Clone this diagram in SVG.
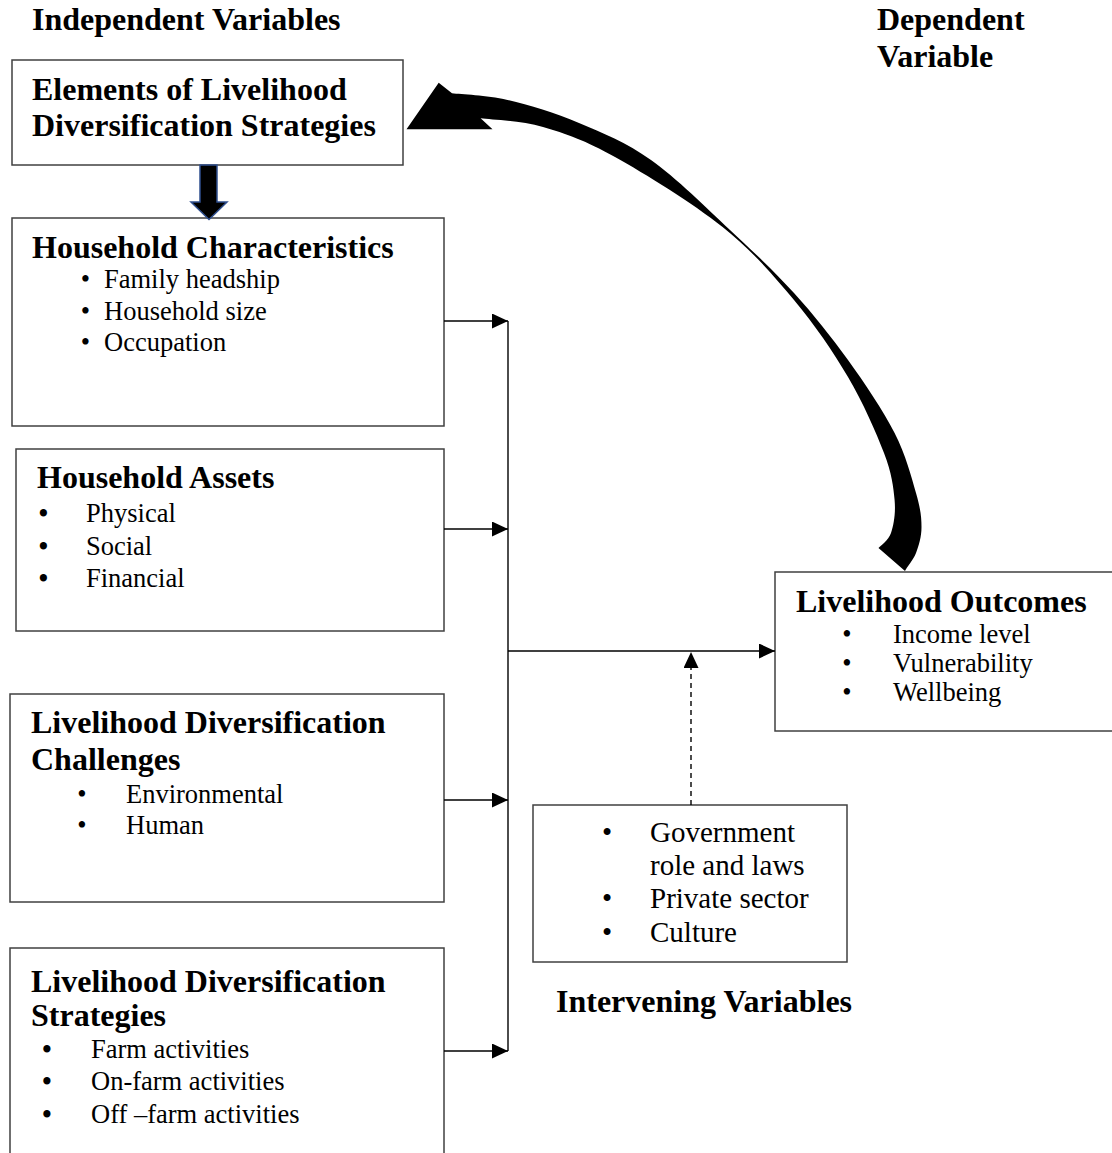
<svg xmlns="http://www.w3.org/2000/svg" width="1112" height="1153" viewBox="0 0 1112 1153">
<style>
  .box { fill: #ffffff; stroke: #404040; stroke-width: 1.5; }
  .h { font-family: "Liberation Serif", "Times New Roman", serif; font-weight: bold; font-size: 32px; fill: #000; }
  .b { font-family: "Liberation Serif", "Times New Roman", serif; font-size: 26.5px; fill: #000; }
  .bi { font-family: "Liberation Serif", "Times New Roman", serif; font-size: 29px; fill: #000; }
  .dot { text-anchor: middle; }
  .big { font-weight: bold; }
  .conn { stroke: #000; stroke-width: 1.4; fill: none; }
  .dash { stroke-dasharray: 5 4; }
</style>
<defs>
  <marker id="ah" markerUnits="userSpaceOnUse" markerWidth="16" markerHeight="16" refX="16" refY="7.5" orient="auto">
    <path d="M0,0 L16,7.5 L0,15 Z" fill="#000"/>
  </marker>
</defs>

<rect x="0" y="0" width="1112" height="1153" fill="#ffffff"/>

<g id="label-independent">
  <text class="h" x="32" y="30">Independent Variables</text>
</g>
<g id="label-dependent">
  <text class="h" x="877" y="30">Dependent</text>
  <text class="h" x="877" y="67">Variable</text>
</g>
<g id="label-intervening">
  <text class="h" x="556" y="1012">Intervening Variables</text>
</g>

<g id="node-elements">
  <rect class="box" x="12" y="60" width="391" height="105"/>
  <text class="h" x="32" y="100">Elements of Livelihood</text>
  <text class="h" x="32" y="136">Diversification Strategies</text>
</g>

<g id="node-household-characteristics">
  <rect class="box" x="12" y="218" width="432" height="208"/>
  <text class="h" x="32" y="258">Household Characteristics</text>
  <text class="b dot" x="85.5" y="288">•</text>
  <text class="b" x="104" y="288">Family headship</text>
  <text class="b dot" x="85.5" y="319.5">•</text>
  <text class="b" x="104" y="319.5">Household size</text>
  <text class="b dot" x="85.5" y="351">•</text>
  <text class="b" x="104" y="351">Occupation</text>
</g>

<g id="node-household-assets">
  <rect class="box" x="16" y="449" width="428" height="182"/>
  <text class="h" x="37" y="488">Household Assets</text>
  <text class="b dot big" x="43.5" y="522">•</text>
  <text class="b" x="86" y="522">Physical</text>
  <text class="b dot big" x="43.5" y="554.5">•</text>
  <text class="b" x="86" y="554.5">Social</text>
  <text class="b dot big" x="43.5" y="587">•</text>
  <text class="b" x="86" y="587">Financial</text>
</g>

<g id="node-challenges">
  <rect class="box" x="10" y="694" width="434" height="208"/>
  <text class="h" x="31" y="733">Livelihood Diversification</text>
  <text class="h" x="31" y="770">Challenges</text>
  <text class="b dot" x="82" y="803">•</text>
  <text class="b" x="126" y="803">Environmental</text>
  <text class="b dot" x="82" y="834">•</text>
  <text class="b" x="126" y="834">Human</text>
</g>

<g id="node-strategies">
  <rect class="box" x="10" y="948" width="434" height="230"/>
  <text class="h" x="31" y="992">Livelihood Diversification</text>
  <text class="h" x="31" y="1026">Strategies</text>
  <text class="b dot big" x="47" y="1058">•</text>
  <text class="b" x="91" y="1058">Farm activities</text>
  <text class="b dot big" x="47" y="1090">•</text>
  <text class="b" x="91" y="1090">On-farm activities</text>
  <text class="b dot big" x="47" y="1123">•</text>
  <text class="b" x="91" y="1123">Off –farm activities</text>
</g>

<g id="node-outcomes">
  <rect class="box" x="775" y="572" width="360" height="159"/>
  <text class="h" x="796" y="612">Livelihood Outcomes</text>
  <text class="b dot" x="847" y="643">•</text>
  <text class="b" x="893" y="643">Income level</text>
  <text class="b dot" x="847" y="672">•</text>
  <text class="b" x="893" y="672">Vulnerability</text>
  <text class="b dot" x="847" y="701">•</text>
  <text class="b" x="893" y="701">Wellbeing</text>
</g>

<g id="node-intervening">
  <rect class="box" x="533" y="805" width="314" height="157"/>
  <text class="bi dot" x="607" y="842">•</text>
  <text class="bi" x="650" y="842">Government</text>
  <text class="bi" x="650" y="875">role and laws</text>
  <text class="bi dot" x="607" y="908">•</text>
  <text class="bi" x="650" y="908">Private sector</text>
  <text class="bi dot" x="607" y="942">•</text>
  <text class="bi" x="650" y="942">Culture</text>
</g>

<g id="connectors">
  <path d="M200,165 L217,165 L217,202 L227,202 L209,219.5 L191,202 L200,202 Z" fill="#000" stroke="#2F4F8F" stroke-width="1.5" stroke-linejoin="miter"/>
  <line class="conn" x1="444" y1="321" x2="508" y2="321" marker-end="url(#ah)"/>
  <line class="conn" x1="444" y1="529" x2="508" y2="529" marker-end="url(#ah)"/>
  <line class="conn" x1="444" y1="800" x2="508" y2="800" marker-end="url(#ah)"/>
  <line class="conn" x1="444" y1="1051" x2="508" y2="1051" marker-end="url(#ah)"/>
  <line class="conn" x1="508" y1="321" x2="508" y2="1051"/>
  <line class="conn" x1="508" y1="651" x2="775" y2="651" marker-end="url(#ah)"/>
  <line class="conn dash" x1="691" y1="805" x2="691" y2="652" marker-end="url(#ah)"/>
  <path fill="#000" d="M406.5,129.3 L438.7,82.7 L452,93.3
    C461.25,94.4 486.3,95.05 507.5,100
    C528.7,105 555.1,113 579,123
    C602.9,133 625.8,142.2 651,160
    C676.2,177.8 706.2,207.8 730,230
    C753.8,252.2 774.3,271.3 794,293
    C813.7,314.7 831.2,336.7 848,360
    C864.8,383.3 883.3,410.8 894.6,433
    C905.9,455.2 911.5,477.3 916,493
    C920.5,508.7 921.5,517 921.5,527
    C921.5,537 918.75,545.8 916,553
    C913.25,560.2 906.8,567.2 905,571
    L878.5,548
    C880.6,545.5 888.3,541 891,533
    C893.7,525 895.8,513.3 894.6,500
    C893.4,486.7 891.8,473.5 884,453
    C876.2,432.5 863,402.5 848,377
    C833,351.5 814.9,325 794,300
    C773.1,275 752.4,250.8 722.6,227
    C692.8,203.2 644.9,173.7 615,157
    C585.1,140.3 565.4,133.45 543,127
    C520.6,120.55 491,119.75 480.6,118.3
    L492.5,129.3 Z"/>
</g>
</svg>
